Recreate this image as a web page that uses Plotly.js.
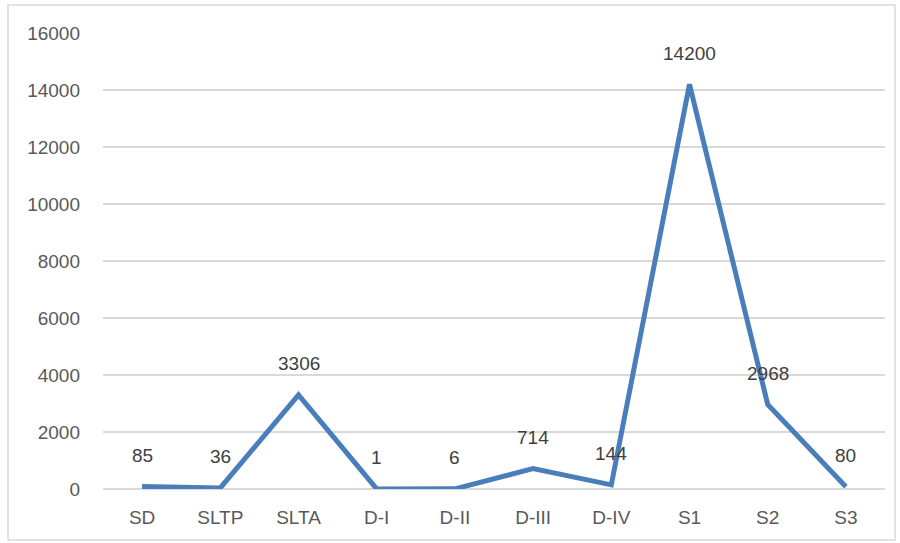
<!DOCTYPE html>
<html><head><meta charset="utf-8">
<script src="https://cdn.plot.ly/plotly-3.0.1.min.js"></script>
<style>body{margin:0;background:#fff}#c{width:900px;height:543px}</style>
</head><body><div id="c"></div>
<script>
const categories = ['SD','SLTP','SLTA','D-I','D-II','D-III','D-IV','S1','S2','S3'];
const values = [85,36,3306,1,6,714,144,14200,2968,80];
const yTicks = [0,2000,4000,6000,8000,10000,12000,14000,16000];

const W=900,H=543,L=103,R=15,T=33,B=54;
const pw=W-L-R, ph=H-T-B;
const px=x=>(x-L)/pw, py=y=>(H-B-y)/ph;
const font="'Liberation Sans', Arial, sans-serif";
const trace={x:categories,y:values,type:'scatter',mode:'lines',
  line:{color:'#4a7ebb',width:5},hoverinfo:'none'};
const ann=categories.map((c,i)=>({x:c,y:values[i],xref:'x',yref:'y',text:String(values[i]),
  showarrow:false,yanchor:'middle',yshift:31,font:{family:font,size:19,color:'#404040'}}));
Plotly.newPlot('c',[trace],{
  width:W,height:H,margin:{l:L,r:R,t:T,b:B},
  paper_bgcolor:'#fff',plot_bgcolor:'#fff',showlegend:false,
  xaxis:{type:'category',range:[-0.5,9.5],showgrid:false,zeroline:false,showline:false,
    ticks:'',tickfont:{family:font,size:19,color:'#595959'},ticklabelstandoff:15},
  yaxis:{range:[0,16000],tickvals:yTicks,ticktext:yTicks.map(String),showgrid:true,gridcolor:'#d9d9d9',gridwidth:1.5,
    zeroline:true,zerolinecolor:'#d9d9d9',zerolinewidth:1.5,showline:false,ticks:'',
    tickfont:{family:font,size:19,color:'#595959'},ticklabelstandoff:22},
  annotations:ann,
  shapes:[{type:'rect',xref:'paper',yref:'paper',x0:px(8),x1:px(895),y0:py(540),y1:py(5),
    line:{color:'#d9d9d9',width:1.5},layer:'below'}]
},{staticPlot:true});
</script></body></html>
